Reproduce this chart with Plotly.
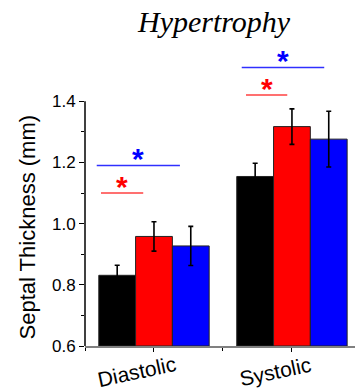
import plotly.graph_objects as go

# Septal thickness by cardiac phase, three groups (mean ± error)
categories = ["Diastolic", "Systolic"]
group_names = ["Group A", "Group B", "Group C"]
group_colors = ["#000000", "#ff0000", "#0000ff"]

group_a = [0.831, 1.154]
group_a_err = [0.033, 0.043]
group_b = [0.958, 1.317]
group_b_err = [0.048, 0.058]
group_c = [0.927, 1.276]
group_c_err = [0.064, 0.091]

# significance brackets (vs Group A): level, start, end per category
sig_b_level = [1.10, 1.42]
sig_b_start = [-0.384, 0.667]
sig_b_end = [-0.078, 0.966]
sig_c_level = [1.19, 1.51]
sig_c_start = [-0.415, 0.636]
sig_c_end = [0.188, 1.234]

y_ticks = [0.6, 0.8, 1.0, 1.2, 1.4]
y_minor = [0.7, 0.9, 1.1, 1.3]

x_pos = list(range(len(categories)))

fig = go.Figure()
for name, color, vals, errs in [
    (group_names[0], group_colors[0], group_a, group_a_err),
    (group_names[1], group_colors[1], group_b, group_b_err),
    (group_names[2], group_colors[2], group_c, group_c_err),
]:
    fig.add_trace(go.Bar(
        x=x_pos, y=[v - 0.6 for v in vals], base=0.6, name=name,
        marker=dict(color=color, line=dict(color="#222222", width=1)),
        error_y=dict(type="data", array=errs, visible=True,
                     color="#000000", thickness=1.6, width=2.5),
        showlegend=False,
    ))

W, H = 355, 392
ml, mr, mt, mb = 85, 0, 40, 46
fig.update_layout(
    width=W, height=H,
    margin=dict(l=ml, r=mr, t=mt, b=mb, pad=0),
    paper_bgcolor="white", plot_bgcolor="white",
    barmode="group", bargap=0.2, bargroupgap=0,
    font=dict(family="Liberation Sans, Arial, sans-serif", color="#000000"),
    xaxis=dict(
        range=[-0.5, 1.457], showgrid=False, zeroline=False,
        showline=True, linecolor="#808080", linewidth=1.5,
        tickvals=x_pos, ticktext=["", ""], ticks="outside",
        ticklen=4, tickcolor="#000000", tickwidth=1,
        minor=dict(tickvals=[-0.5, 0.5], ticks="outside", ticklen=3,
                   tickcolor="#000000", tickwidth=1),
    ),
    yaxis=dict(
        range=[0.6, 1.6], showgrid=False, zeroline=False, showline=False,
        tickvals=y_ticks, ticktext=[f"{v:.1f}" for v in y_ticks],
        ticks="outside", ticklen=5, tickwidth=1, tickcolor="#000000",
        tickfont=dict(size=17),
        minor=dict(tickvals=y_minor, ticks="outside", ticklen=3,
                   tickwidth=1, tickcolor="#000000"),
    ),
)

# y axis line only over the tick span
fig.add_shape(type="line", xref="paper", yref="y", x0=0, x1=0,
              y0=y_ticks[0], y1=y_ticks[-1],
              line=dict(color="#000000", width=1.5))

# significance bars and stars
for i in range(len(categories)):
    for lvl, s, e, lc, sc in [
        (sig_b_level[i], sig_b_start[i], sig_b_end[i], "#ff4040", "#ff0000"),
        (sig_c_level[i], sig_c_start[i], sig_c_end[i], "#3030ff", "#0000ff"),
    ]:
        fig.add_shape(type="line", xref="x", yref="y", x0=s, x1=e,
                      y0=lvl, y1=lvl, line=dict(color=lc, width=1.5))
        fig.add_annotation(x=(s + e) / 2, y=lvl, xref="x", yref="y",
                           text="<b>*</b>", showarrow=False,
                           font=dict(size=30, color=sc), yanchor="middle",
                           yshift=7)

# category labels
for i, cat in enumerate(categories):
    fig.add_annotation(x=x_pos[i], y=0, xref="x", yref="paper", text=cat,
                       showarrow=False, textangle=-12, xshift=-17, yshift=-25,
                       xanchor="center", yanchor="middle",
                       font=dict(size=21))

# axis title
plot_h = H - mt - mb
plot_w = W - ml - mr
fig.add_annotation(x=(27 - ml) / plot_w, y=(H - mb - 227.5) / plot_h,
                   xref="paper", yref="paper", text="Septal Thickness (mm)",
                   showarrow=False, textangle=-90, xanchor="center",
                   yanchor="middle", font=dict(size=22))

# chart title
fig.add_annotation(x=(214 - ml) / plot_w, y=(H - mb - 22) / plot_h,
                   xref="paper", yref="paper", text="<i>Hypertrophy</i>",
                   showarrow=False, xanchor="center", yanchor="middle",
                   font=dict(size=30, family="Liberation Serif, Times New Roman, serif"))

fig.write_html("out.html")
